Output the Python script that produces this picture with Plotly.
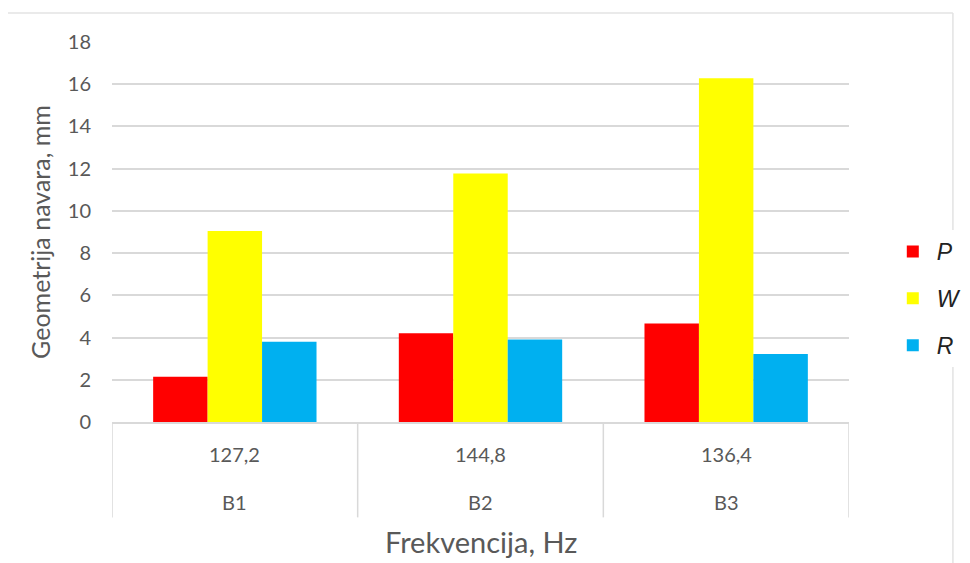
import plotly.graph_objects as go

groups = ["B1", "B2", "B3"]
freqs = ["127,2", "144,8", "136,4"]

p_vals = [2.14, 4.20, 4.67]
w_vals = [9.05, 11.77, 16.28]
r_vals = [3.80, 3.91, 3.22]

series = [("P", p_vals, "#ff0000"), ("W", w_vals, "#ffff00"), ("R", r_vals, "#00b0f0")]

GRAY = "#595959"
LINE = "#d9d9d9"

fig = go.Figure()
for name, vals, color in series:
    fig.add_bar(
        x=groups,
        y=vals,
        name="<i>" + name + "</i>",
        legendgroup=name,
        marker_color=color,
        marker_line_width=0,
    )

# two-level category labels under the axis (frequency above, sample below)
for g, f in zip(groups, freqs):
    fig.add_annotation(x=g, y=-0.085, xref="x", yref="paper", yanchor="middle", text=f,
                       showarrow=False, font={"size": 20, "color": GRAY})
    fig.add_annotation(x=g, y=-0.2115, xref="x", yref="paper", yanchor="middle", text=g,
                       showarrow=False, font={"size": 20, "color": GRAY})

# category dividers
for i in range(len(groups) + 1):
    fig.add_shape(type="line", xref="x", yref="paper", x0=i - 0.5, x1=i - 0.5,
                  y0=0, y1=-0.251, line_color=LINE, line_width=1.5)

fig.add_annotation(x=0.5, y=-0.314, xref="paper", yref="paper", yanchor="middle",
                   text="Frekvencija, Hz", showarrow=False,
                   font={"size": 29, "color": GRAY})

# thin chart-area border (top and right edges)
fig.add_shape(type="line", xref="paper", yref="paper", x0=-0.1425, x1=1.141,
              y0=1.0764, y1=1.0764, line_color="#e3e3e3", line_width=1.5)
fig.add_shape(type="line", xref="paper", yref="paper", x0=1.141, x1=1.141,
              y0=1.0764, y1=-0.372, line_color="#e3e3e3", line_width=1.5)

# the page body adds an 8px offset, so margins are shifted by 8px to compensate
fig.update_layout(
    width=970,
    height=563,
    barmode="group",
    bargap=0.335,
    bargroupgap=0,
    plot_bgcolor="white",
    paper_bgcolor="white",
    font={"family": "Lato, Open Sans, sans-serif", "color": GRAY},
    margin={"l": 104, "r": 129, "t": 34, "b": 149},
    xaxis={
        "type": "category",
        "range": [-0.5, 2.5],
        "showticklabels": False,
        "showline": True,
        "linecolor": LINE,
        "linewidth": 1.5,
        "showgrid": False,
        "automargin": False,
    },
    yaxis={
        "title": {"text": "Geometrija navara, mm", "font": {"size": 25}, "standoff": 10},
        "range": [0, 18],
        "dtick": 2,
        "tickfont": {"size": 20},
        "ticklabelstandoff": 20,
        "gridcolor": LINE,
        "gridwidth": 1.5,
        "zeroline": False,
        "showline": False,
        "ticklen": 0,
        "automargin": False,
    },
    legend={
        "x": 1.054,
        "y": 0.325,
        "yanchor": "middle",
        "xanchor": "left",
        "font": {"size": 23, "color": "#222222", "family": "Liberation Sans, Arial, sans-serif"},
        "tracegroupgap": 14,
        "itemwidth": 38,
    },
)

fig.write_html("out.html")
